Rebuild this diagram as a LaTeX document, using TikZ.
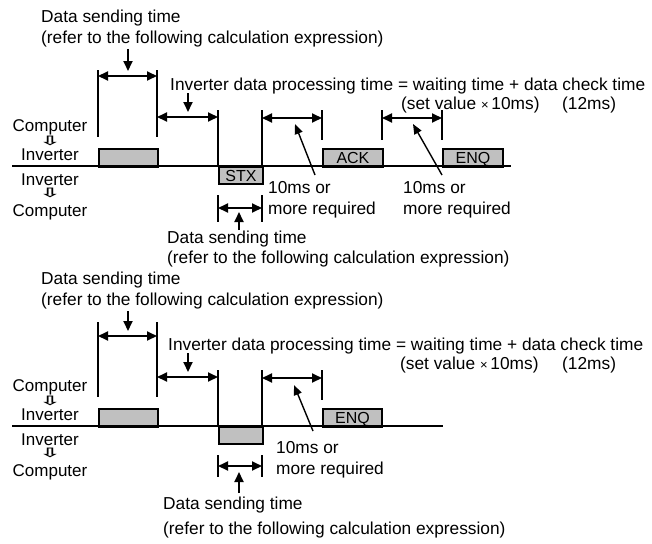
\documentclass[tikz,border=0pt]{standalone}
\usepackage{fontspec}
\usepackage{graphicx}
\setmainfont{Liberation Sans}
\newfontfamily\dejavu{DejaVu Sans}
\usetikzlibrary{arrows.meta}
\definecolor{sgray}{HTML}{C0C0C0}
\newcommand{\dnsym}{\scalebox{1.35}[0.68]{⇩}}
\begin{document}
\begin{tikzpicture}[x=1pt,y=-1pt,
  txt/.style={anchor=base west,inner sep=0pt,font=\fontsize{17.3}{20}\selectfont},
  lbl/.style={anchor=base,inner sep=0pt,font=\fontsize{17}{20}\selectfont},
  sym/.style={inner sep=0pt,anchor=base,text height=4pt,text depth=0pt,
    font=\dejavu\bfseries\fontsize{19}{19}\selectfont},
  bar/.style={line width=1.9pt},
  dim/.style={line width=1.9pt,{Triangle[length=10pt,width=9pt]}-{Triangle[length=10pt,width=9pt]}},
  ptr/.style={line width=1.9pt,-{Triangle[length=10pt,width=9pt]}},
  thinptr/.style={line width=1.4pt,-{Triangle[length=10pt,width=8pt]}},
  sig/.style={draw,line width=1.9pt,fill=sgray,inner sep=0pt,anchor=north west,
    text height=11.5pt,text depth=0pt,font=\fontsize{16}{16}\selectfont}]
\useasboundingbox (0,0) rectangle (652,543);

% ================= TOP DIAGRAM =================
\node[txt] (a-t1) at (41,23) {Data sending time};
\node[txt] (a-t2) at (41,44) {(refer to the following calculation expression)};
\node[txt] (a-t3) at (170,90) {Inverter data processing time = waiting time + data check time};
\node[txt] (a-t4) at (401,109) {(set value {\fontsize{13}{13}\selectfont ×}\,10ms)};
\node[txt] (a-t5) at (562,109) {(12ms)};
\node[lbl] (a-l1) at (50,131) {Computer};
\node[sym] (a-s1) at (50,145) {\dnsym};
\node[lbl] (a-l2) at (50,160) {Inverter};
\node[lbl] (a-l3) at (50,185) {Inverter};
\node[sym] (a-s2) at (50,197) {\dnsym};
\node[lbl] (a-l4) at (50,216) {Computer};
\node[txt] (a-r1) at (268,193) {10ms or};
\node[txt] (a-r2) at (268,214) {more required};
\node[txt] (a-r3) at (403,193) {10ms or};
\node[txt] (a-r4) at (403,214) {more required};
\node[txt] (a-b1) at (167,243) {Data sending time};
\node[txt] (a-b2) at (167,263) {(refer to the following calculation expression)};

% signal boxes
\node[sig,minimum width=59pt,minimum height=18pt] (a-cb) at (98,148) {};
\node[sig,minimum width=44pt,minimum height=17pt] (a-stx) at (218,166) {STX};
\node[sig,minimum width=60pt,minimum height=18pt] (a-ack) at (322,148) {ACK};
\node[sig,minimum width=60pt,minimum height=18pt] (a-enq) at (442,148) {ENQ};

% baseline
\coordinate (a-h0) at (12,166);
\coordinate (a-h1) at (511,166);
\draw[bar] (a-h0) -- (a-h1);

% vertical bars
\coordinate (a-v1t) at (98,70);  \coordinate (a-v1b) at (98,137);
\coordinate (a-v2t) at (157,70); \coordinate (a-v2b) at (157,137);
\coordinate (a-v3t) at (218,110); \coordinate (a-v3b) at (218,166);
\coordinate (a-v4t) at (262,110); \coordinate (a-v4b) at (262,166);
\coordinate (a-v5t) at (322,110); \coordinate (a-v5b) at (322,140);
\coordinate (a-v6t) at (382,110); \coordinate (a-v6b) at (382,140);
\coordinate (a-v7t) at (442,110); \coordinate (a-v7b) at (442,140);
\foreach \i in {1,...,7} {\draw[bar] (a-v\i t) -- (a-v\i b);}

% dimension arrows
\coordinate (a-d1a) at (98,76);  \coordinate (a-d1b) at (157,76);
\coordinate (a-d2a) at (157,117); \coordinate (a-d2b) at (218,117);
\coordinate (a-d3a) at (262,118); \coordinate (a-d3b) at (322,118);
\coordinate (a-d4a) at (382,118); \coordinate (a-d4b) at (442,118);
\draw[dim] (a-d1a) -- (a-d1b);
\draw[dim] (a-d2a) -- (a-d2b);
\draw[dim] (a-d3a) -- (a-d3b);
\draw[dim] (a-d4a) -- (a-d4b);

% pointer arrows
\coordinate (a-p1a) at (128,49); \coordinate (a-p1b) at (128,71);
\draw[ptr] (a-p1a) -- (a-p1b);
\coordinate (a-p2a) at (188,93); \coordinate (a-p2b) at (188,112);
\draw[ptr] (a-p2a) -- (a-p2b);
\coordinate (a-p3a) at (315,175); \coordinate (a-p3b) at (295,124);
\draw[thinptr] (a-p3a) -- (a-p3b);
\coordinate (a-p4a) at (442,175); \coordinate (a-p4b) at (413,124);
\draw[thinptr] (a-p4a) -- (a-p4b);

% bottom dimension
\coordinate (a-k1t) at (218,195); \coordinate (a-k1b) at (218,222);
\coordinate (a-k2t) at (262,195); \coordinate (a-k2b) at (262,222);
\draw[bar] (a-k1t) -- (a-k1b);
\draw[bar] (a-k2t) -- (a-k2b);
\coordinate (a-d5a) at (218,208); \coordinate (a-d5b) at (262,208);
\draw[dim] (a-d5a) -- (a-d5b);
\coordinate (a-p5a) at (239,230); \coordinate (a-p5b) at (239,212);
\draw[ptr] (a-p5a) -- (a-p5b);

% ================= BOTTOM DIAGRAM =================
\node[txt] (b-t1) at (41,284) {Data sending time};
\node[txt] (b-t2) at (41,305) {(refer to the following calculation expression)};
\node[txt] (b-t3) at (168,350) {Inverter data processing time = waiting time + data check time};
\node[txt] (b-t4) at (400,369) {(set value {\fontsize{13}{13}\selectfont ×}\,10ms)};
\node[txt] (b-t5) at (562,369) {(12ms)};
\node[lbl] (b-l1) at (50,391) {Computer};
\node[sym] (b-s1) at (50,405) {\dnsym};
\node[lbl] (b-l2) at (50,420) {Inverter};
\node[lbl] (b-l3) at (50,445) {Inverter};
\node[sym] (b-s2) at (50,457) {\dnsym};
\node[lbl] (b-l4) at (50,476) {Computer};
\node[txt] (b-r1) at (276,453) {10ms or};
\node[txt] (b-r2) at (276,474) {more required};
\node[txt] (b-b1) at (163,509) {Data sending time};
\node[txt] (b-b2) at (163,534) {(refer to the following calculation expression)};

\node[sig,minimum width=59pt,minimum height=18pt] (b-cb) at (98,408) {};
\node[sig,minimum width=44pt,minimum height=17pt] (b-ib) at (218,426) {};
\node[sig,minimum width=59pt,minimum height=18pt] (b-enq) at (322,408) {ENQ};

\coordinate (b-h0) at (12,426);
\coordinate (b-h1) at (443,426);
\draw[bar] (b-h0) -- (b-h1);

\coordinate (b-v1t) at (98,322);  \coordinate (b-v1b) at (98,397);
\coordinate (b-v2t) at (157,322); \coordinate (b-v2b) at (157,397);
\coordinate (b-v3t) at (218,370); \coordinate (b-v3b) at (218,426);
\coordinate (b-v4t) at (262,370); \coordinate (b-v4b) at (262,426);
\coordinate (b-v5t) at (322,370); \coordinate (b-v5b) at (322,400);
\foreach \i in {1,...,5} {\draw[bar] (b-v\i t) -- (b-v\i b);}

\coordinate (b-d1a) at (98,336);  \coordinate (b-d1b) at (157,336);
\coordinate (b-d2a) at (157,377); \coordinate (b-d2b) at (218,377);
\coordinate (b-d3a) at (262,378); \coordinate (b-d3b) at (322,378);
\draw[dim] (b-d1a) -- (b-d1b);
\draw[dim] (b-d2a) -- (b-d2b);
\draw[dim] (b-d3a) -- (b-d3b);

\coordinate (b-p1a) at (128,311); \coordinate (b-p1b) at (128,331);
\draw[ptr] (b-p1a) -- (b-p1b);
\coordinate (b-p2a) at (188,353); \coordinate (b-p2b) at (188,372);
\draw[ptr] (b-p2a) -- (b-p2b);
\coordinate (b-p3a) at (313,431); \coordinate (b-p3b) at (294,385);
\draw[thinptr] (b-p3a) -- (b-p3b);

\coordinate (b-k1t) at (218,455); \coordinate (b-k1b) at (218,477);
\coordinate (b-k2t) at (262,455); \coordinate (b-k2b) at (262,477);
\draw[bar] (b-k1t) -- (b-k1b);
\draw[bar] (b-k2t) -- (b-k2b);
\coordinate (b-d5a) at (218,466); \coordinate (b-d5b) at (262,466);
\draw[dim] (b-d5a) -- (b-d5b);
\coordinate (b-p5a) at (239,493); \coordinate (b-p5b) at (239,472);
\draw[ptr] (b-p5a) -- (b-p5b);
\end{tikzpicture}
\end{document}
